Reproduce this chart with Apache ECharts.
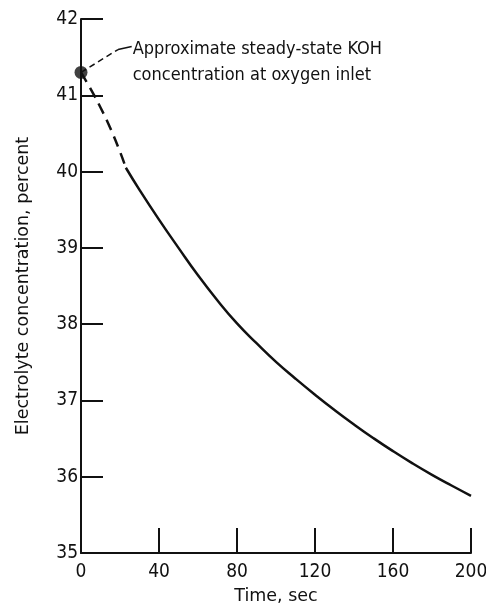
<!DOCTYPE html>
<html>
<head>
<meta charset="utf-8">
<script src="https://cdn.jsdelivr.net/npm/echarts@6/dist/echarts.min.js"></script>
<style>
  html, body { margin: 0; padding: 0; background: #fff; }
  #main { width: 486px; height: 609px; }
</style>
</head>
<body>
<div id="main"></div>
<script>
// time (sec) and electrolyte concentration (percent)
var dashedTime = [0, 5, 10, 15, 20, 23];
var dashedConc = [41.3, 41.08, 40.84, 40.57, 40.26, 40.05];
var solidTime = [23, 30, 40, 50, 60, 70, 80, 90, 100, 110, 120, 130, 140, 150, 160, 170, 180, 190, 200];
var solidConc = [40.05, 39.76, 39.37, 39.0, 38.64, 38.31, 38.01, 37.75, 37.505, 37.285, 37.075, 36.875, 36.685, 36.505, 36.335, 36.175, 36.025, 35.885, 35.75];
var inletPoint = [0, 41.3];
var xTicks = [0, 40, 80, 120, 160, 200];
var yTicks = [35, 36, 37, 38, 39, 40, 41, 42];
var noteText = 'Approximate steady-state KOH\nconcentration at oxygen inlet';
var leaderDash = [[0, 41.3], [19, 41.6]];
var leaderSolid = [[19, 41.6], [26, 41.64]];
var noteAnchor = [26.5, 41.64];

var font = "'DejaVu Sans Condensed', 'Liberation Sans Narrow', 'DejaVu Sans', sans-serif";
var nameFont = "'DejaVu Sans', sans-serif";

function pairs(xs, ys) {
  return xs.map(function (x, i) { return [x, ys[i]]; });
}

var chartDom = document.getElementById('main');
var myChart = echarts.init(chartDom);
var option = {
  animation: false,
  backgroundColor: '#fff',
  grid: { left: 81, right: 15, top: 19, bottom: 56, outerBoundsMode: 'none', containLabel: false },
  xAxis: {
    type: 'value',
    min: xTicks[0],
    max: xTicks[xTicks.length - 1],
    interval: 40,
    name: 'Time, sec',
    nameLocation: 'middle',
    nameGap: 34,
    nameTextStyle: { fontFamily: nameFont, fontSize: 17.5, color: '#111' },
    axisLine: { lineStyle: { color: '#111', width: 2 } },
    axisTick: { inside: true, length: 25, lineStyle: { color: '#111', width: 2 } },
    axisLabel: { fontFamily: font, fontSize: 19, color: '#111', margin: 10 },
    splitLine: { show: false }
  },
  yAxis: {
    type: 'value',
    min: yTicks[0],
    max: yTicks[yTicks.length - 1],
    interval: 1,
    name: 'Electrolyte concentration, percent',
    nameLocation: 'middle',
    nameGap: 49,
    nameTextStyle: { fontFamily: nameFont, fontSize: 17.5, color: '#111' },
    axisLine: { lineStyle: { color: '#111', width: 2 } },
    axisTick: { inside: true, length: 22, lineStyle: { color: '#111', width: 2 } },
    axisLabel: { fontFamily: font, fontSize: 19, color: '#111', margin: 3 },
    splitLine: { show: false }
  },
  series: [
    {
      type: 'line',
      data: pairs(dashedTime, dashedConc),
      showSymbol: false,
      smooth: 0.5,
      lineStyle: { color: '#111', width: 2.5, type: [11, 7] }
    },
    {
      type: 'line',
      data: pairs(solidTime, solidConc),
      showSymbol: false,
      smooth: 0.5,
      lineStyle: { color: '#111', width: 2.5 }
    },
    {
      type: 'line',
      data: leaderDash,
      showSymbol: false,
      lineStyle: { color: '#111', width: 1.5, type: [6, 4] }
    },
    {
      type: 'line',
      data: leaderSolid,
      showSymbol: false,
      lineStyle: { color: '#111', width: 1.5 }
    },
    {
      type: 'scatter',
      data: [inletPoint],
      symbolSize: 13,
      itemStyle: { color: '#111' },
      z: 5
    }
  ]
};

option && myChart.setOption(option);

var p = myChart.convertToPixel({ gridIndex: 0 }, noteAnchor);
myChart.setOption({
  graphic: [{
    type: 'text',
    x: p[0],
    y: p[1] - 10,
    style: {
      text: noteText,
      fontFamily: font,
      fontSize: 18,
      lineHeight: 26,
      fill: '#111',
      align: 'left',
      verticalAlign: 'top'
    }
  }]
});
</script>
</body>
</html>
